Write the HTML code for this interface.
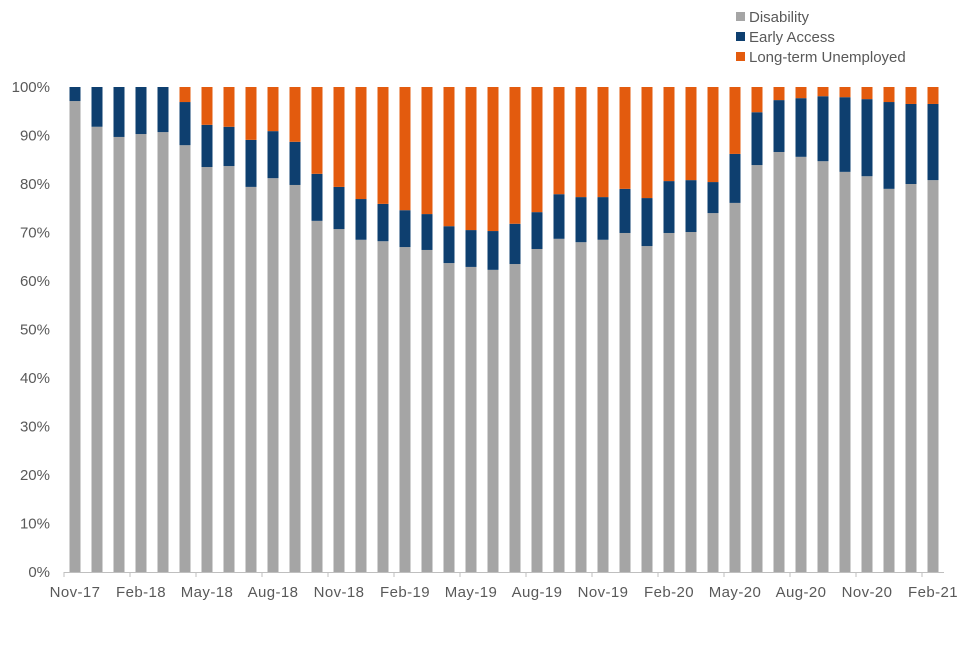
<!DOCTYPE html>
<html><head><meta charset="utf-8"><style>
body{margin:0;background:#fff;font-family:"Liberation Sans",sans-serif;}
svg text{font-family:"Liberation Sans",sans-serif;fill:#595959;font-size:15px;}
</style></head><body>
<svg id="chart" width="960" height="640">
<g id="legend">
<g><rect x="736" y="12" width="9" height="9" fill="#a5a5a5"/><text x="749" y="22">Disability</text></g>
<g><rect x="736" y="32" width="9" height="9" fill="#0e3f6f"/><text x="749" y="42">Early Access</text></g>
<g><rect x="736" y="52" width="9" height="9" fill="#e35b0e"/><text x="749" y="62">Long-term Unemployed</text></g>
</g>
<g id="yaxis"></g>
<g id="bars"></g>
<g id="xaxis"></g>
</svg>
<script>
const months=["Nov-17","Dec-17","Jan-18","Feb-18","Mar-18","Apr-18","May-18","Jun-18","Jul-18","Aug-18","Sep-18","Oct-18","Nov-18","Dec-18","Jan-19","Feb-19","Mar-19","Apr-19","May-19","Jun-19","Jul-19","Aug-19","Sep-19","Oct-19","Nov-19","Dec-19","Jan-20","Feb-20","Mar-20","Apr-20","May-20","Jun-20","Jul-20","Aug-20","Sep-20","Oct-20","Nov-20","Dec-20","Jan-21","Feb-21"];
const disability=[97.1,91.8,89.7,90.3,90.7,88.0,83.5,83.7,79.4,81.2,79.8,72.4,70.7,68.5,68.2,67.0,66.4,63.7,62.9,62.3,63.5,66.6,68.7,68.0,68.5,69.9,67.2,69.9,70.1,74.0,76.1,83.9,86.6,85.6,84.7,82.5,81.6,79.0,80.0,80.8];
const earlyAccess=[2.9,8.2,10.3,9.7,9.3,8.9,8.7,8.1,9.7,9.7,8.9,9.7,8.7,8.4,7.7,7.6,7.4,7.6,7.6,8.0,8.3,7.6,9.2,9.3,8.8,9.1,9.9,10.7,10.7,6.4,10.1,10.9,10.7,12.1,13.4,15.4,15.9,17.9,16.5,15.7];
const longTermUnemployed=[0,0,0,0,0,3.1,7.8,8.2,10.9,9.1,11.3,17.9,20.6,23.1,24.1,25.4,26.2,28.7,29.5,29.7,28.2,25.8,22.1,22.7,22.7,21.0,22.9,19.4,19.2,19.6,13.8,5.2,2.7,2.3,1.9,2.1,2.5,3.1,3.5,3.5];
const yTicks=[0,10,20,30,40,50,60,70,80,90,100];
const NS="http://www.w3.org/2000/svg";
const x0=64,x1=944,yBottom=572,yTop=87;
const band=(x1-x0)/months.length;
const xPos=i=>x0+band*(i+0.5);
const yPos=v=>yBottom-(yBottom-yTop)*v/100;
function mk(tag,attrs,parent){const e=document.createElementNS(NS,tag);for(const k in attrs)e.setAttribute(k,attrs[k]);parent.appendChild(e);return e;}
const ya=document.getElementById('yaxis'),bars=document.getElementById('bars'),xa=document.getElementById('xaxis');
yTicks.forEach(t=>{const tx=mk('text',{x:50,y:yPos(t)+5,'text-anchor':'end'},ya);tx.textContent=t+'%';

});
const bw=11;
const series=[[disability,'#a5a5a5','disability'],[earlyAccess,'#0e3f6f','early-access'],[longTermUnemployed,'#e35b0e','long-term-unemployed']];
months.forEach((m,i)=>{let base=0;series.forEach(([arr,col,nm])=>{const v=arr[i];if(v<=0)return;
const r=mk('rect',{x:xPos(i)-bw/2,y:yPos(base+v),width:bw,height:yPos(base)-yPos(base+v),fill:col},bars);


base+=v;});});
const ax=mk('line',{x1:x0,x2:x1,y1:yBottom+0.5,y2:yBottom+0.5,stroke:'#bfbfbf','stroke-width':1},xa);


for(let i=0;i<=months.length;i+=3){const tk=mk('line',{x1:x0+band*i,x2:x0+band*i,y1:yBottom,y2:yBottom+5,stroke:'#bfbfbf','stroke-width':1},xa);

}
months.forEach((m,i)=>{if(i%3!==0)return;const tx=mk('text',{x:xPos(i),y:597,'text-anchor':'middle','letter-spacing':'0.4'},xa);tx.textContent=m;

});
</script>
</body></html>
